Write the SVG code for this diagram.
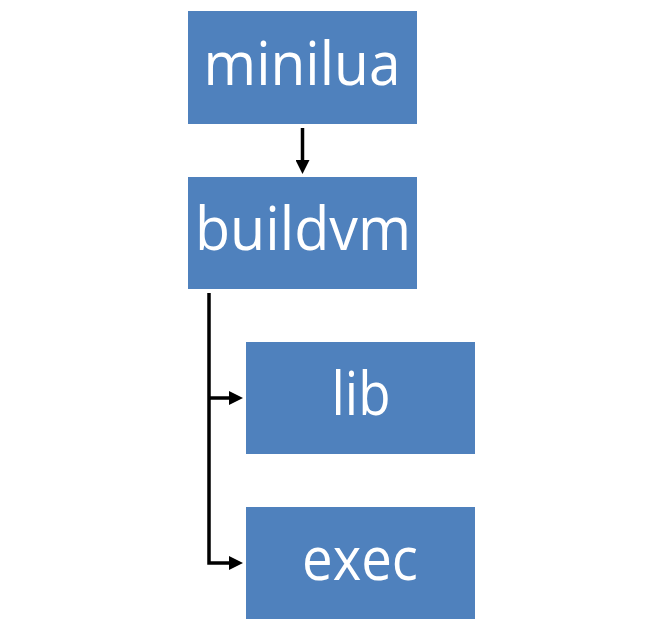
<svg xmlns="http://www.w3.org/2000/svg" width="663" height="643" viewBox="0 0 663 643">
<style>
.box{fill:#4F81BD}
.lbl{fill:#FFFFFF;font-family:"Open Sans","Liberation Sans",sans-serif;font-size:60px;text-anchor:middle}
.conn{stroke:#000;stroke-width:3.5;fill:none}
</style>
<defs>
<marker id="ah" markerWidth="4" markerHeight="4" refX="0" refY="2" orient="auto" markerUnits="strokeWidth" viewBox="0 0 4 4">
<path d="M0,0 L4,2 L0,4 Z" fill="#000"/>
</marker>
</defs>
<rect width="663" height="643" fill="#FFFFFF"/>
<g id="minilua"><rect class="box" x="188" y="11" width="229" height="113"/><text class="lbl" x="302" y="85" textLength="197" lengthAdjust="spacingAndGlyphs">minilua</text></g>
<g id="buildvm"><rect class="box" x="188" y="177" width="229" height="112"/><text class="lbl" x="303" y="250" textLength="216" lengthAdjust="spacingAndGlyphs">buildvm</text></g>
<g id="lib"><rect class="box" x="246" y="342" width="229" height="112"/><text class="lbl" x="361" y="415" textLength="59" lengthAdjust="spacingAndGlyphs">lib</text></g>
<g id="exec"><rect class="box" x="246" y="507" width="229" height="112"/><text class="lbl" x="360" y="580" textLength="116" lengthAdjust="spacingAndGlyphs">exec</text></g>
<g id="connectors">
<line class="conn" x1="302.5" y1="128" x2="302.5" y2="160" stroke-width="3" marker-end="url(#ah)"/>
<path class="conn" d="M209,293 V563 H229" marker-end="url(#ah)"/>
<path class="conn" d="M209,398 H229" marker-end="url(#ah)"/>
</g>
</svg>
